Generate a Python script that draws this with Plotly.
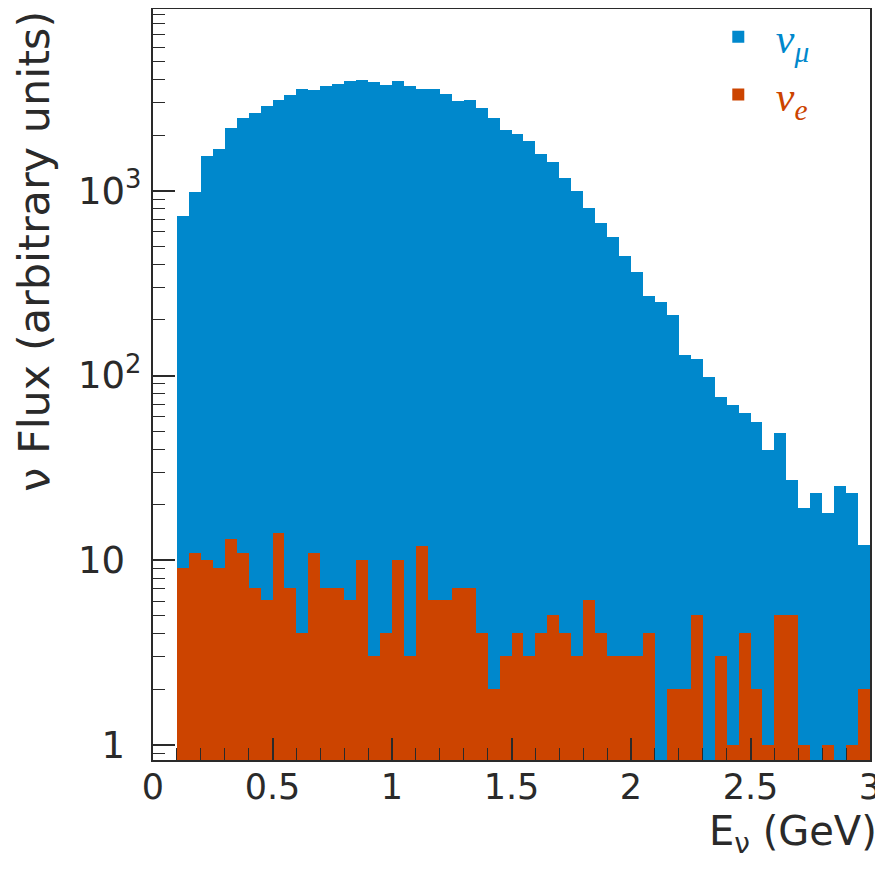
import plotly.graph_objects as go

# ---- data -------------------------------------------------------------
bin_centers = [0.125, 0.175, 0.225, 0.275, 0.325, 0.375, 0.425, 0.475, 0.525, 0.575,
               0.625, 0.675, 0.725, 0.775, 0.825, 0.875, 0.925, 0.975, 1.025, 1.075,
               1.125, 1.175, 1.225, 1.275, 1.325, 1.375, 1.425, 1.475, 1.525, 1.575,
               1.625, 1.675, 1.725, 1.775, 1.825, 1.875, 1.925, 1.975, 2.025, 2.075,
               2.125, 2.175, 2.225, 2.275, 2.325, 2.375, 2.425, 2.475, 2.525, 2.575,
               2.625, 2.675, 2.725, 2.775, 2.825, 2.875, 2.925, 2.975]
bin_width = 0.05

numu_flux = [733, 990, 1546, 1680, 2175, 2473, 2640, 2878, 3090, 3304,
             3548, 3530, 3681, 3777, 3936, 3970, 3872, 3724, 3917, 3681,
             3548, 3548, 3331, 3065, 3090, 2820, 2490, 2136, 2025, 1863,
             1591, 1429, 1180, 992, 806, 666, 559, 442, 363, 271,
             249, 213, 129, 123, 98.8, 76.3, 69.7, 62.5, 55.9, 39.3,
             49, 27.3, 19.3, 23.2, 18.1, 25.2, 23.2, 12.05]

nue_flux = [9.1, 11, 10, 9.1, 13, 11, 7.1, 6.1, 14, 7.1,
            4.05, 11, 7.1, 7.1, 6.1, 10, 3.05, 4.05, 10, 3.05,
            12, 6.1, 6.1, 7.1, 7.1, 4.05, 2.0, 3.05, 4.05, 3.05,
            4.05, 5.05, 4.05, 3.05, 6.1, 4.05, 3.05, 3.05, 3.05, 4.05,
            None, 2, 2, 5.05, None, 3.05, 1, 4.05, 2, 1,
            5.05, 5.05, 1, None, 1, None, 1, 2]

y_tickvals = [1, 10, 100, 1000]
y_ticktext = ["1", "10", "10<sup>2</sup>", "10<sup>3</sup>"]
x_tickvals = [0, 0.5, 1, 1.5, 2, 2.5, 3]
x_ticktext = ["0", "0.5", "1", "1.5", "2", "2.5", "3"]

BLUE = "#0088cc"
RED = "#cc4400"
TXT = "#2a2a2a"
FONT = "DejaVu Sans"

# y minor ticks (2..9 per decade)
y_minor = [m * 10 ** d for d in range(-1, 4) for m in range(2, 10)]
y_minor = [v for v in y_minor if 0.83 < v < 9600]


def pad(txt):
    # invisible superscript so that bases line up like the reference
    return txt + '<span style="color:rgba(0,0,0,0)"><sup>2</sup></span>'


ticktext_y = [pad(t) if "<sup>" not in t else t for t in y_ticktext]

fig = go.Figure()
fig.add_trace(go.Bar(
    x=bin_centers, y=numu_flux, width=bin_width,
    marker=dict(color=BLUE, line=dict(width=0)),
    name='<span style="color:%s"><i>ν</i><sub><i>μ</i></sub></span>' % BLUE,
))
fig.add_trace(go.Bar(
    x=bin_centers, y=nue_flux, width=bin_width,
    marker=dict(color=RED, line=dict(width=0)),
    name='<span style="color:%s"><i>ν</i><sub><i>e</i></sub></span>' % RED,
))

# the page body adds an 8px offset, so the figure is 8px smaller than the window
fig.update_layout(
    width=875, height=861,
    margin=dict(l=145, r=13, t=1, b=109, autoexpand=False),
    paper_bgcolor="white", plot_bgcolor="white",
    barmode="overlay", bargap=0,
    font=dict(family=FONT, color=TXT, size=36),
    legend=dict(x=0.764, y=1.008, xanchor="left", yanchor="top",
                bgcolor="rgba(0,0,0,0)", traceorder="normal",
                font=dict(family="Liberation Serif", size=42),
                itemwidth=65, tracegroupgap=0),
    xaxis=dict(range=[0, 3], tickmode="array", tickvals=x_tickvals, ticktext=x_ticktext,
               ticks="inside", ticklen=22, tickwidth=1.5, tickcolor=TXT,
               minor=dict(dtick=0.1, tick0=0, ticks="inside", ticklen=12, tickcolor=TXT, tickwidth=1),
               showline=True, mirror=True, linecolor=TXT, linewidth=2,
               showgrid=False, zeroline=False, ticklabelstandoff=-5, automargin=False,
               tickfont=dict(size=35, color=TXT, family=FONT)),
    yaxis=dict(type="log", range=[-0.081, 3.984], tickmode="array",
               tickvals=y_tickvals, ticktext=ticktext_y,
               ticks="inside", ticklen=22, tickwidth=1.5, tickcolor=TXT,
               minor=dict(tickmode="array", tickvals=y_minor, ticks="inside", ticklen=12,
                          tickcolor=TXT, tickwidth=1),
               showline=True, mirror=True, linecolor=TXT, linewidth=2,
               showgrid=False, zeroline=False, ticklabelstandoff=2, automargin=False,
               tickfont=dict(size=37, color=TXT, family=FONT)),
    annotations=[
        dict(text="E<sub>ν</sub> (GeV)", xref="paper", yref="paper",
             x=1.012, y=-0.0985, xanchor="right", yanchor="middle",
             showarrow=False, font=dict(size=40, color=TXT, family=FONT)),
        dict(text="ν Flux (arbitrary units)", xref="paper", yref="paper",
             x=-0.167, y=1.0, xanchor="center", yanchor="top", textangle=-90,
             showarrow=False, font=dict(size=43, color=TXT, family=FONT)),
    ],
)

fig.write_html("out.html")
